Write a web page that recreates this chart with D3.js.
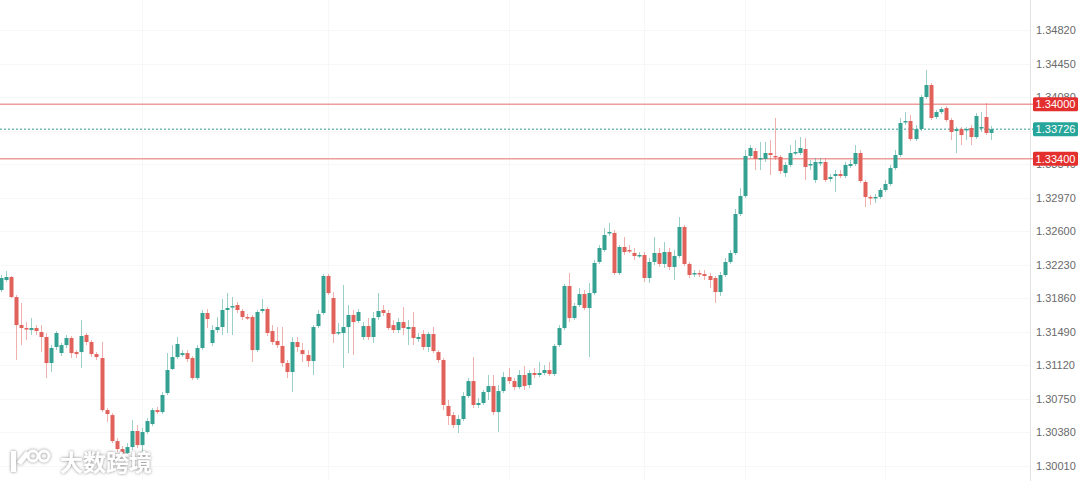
<!DOCTYPE html>
<html><head><meta charset="utf-8">
<script src="https://cdn.jsdelivr.net/npm/d3@7/dist/d3.min.js"></script>
<style>html,body{margin:0;padding:0;background:#fff;overflow:hidden}</style>
</head><body>
<svg id="c" width="1080" height="481"></svg>
<script>
const open=[1.31951,1.32062,1.32095,1.31874,1.31565,1.31532,1.31510,1.31532,1.31488,1.31433,
1.31146,1.31323,1.31256,1.31344,1.31422,1.31267,1.31267,1.31455,1.31378,1.31245,
1.31201,1.30627,1.30572,1.30285,1.30197,1.30153,1.30219,1.30396,1.30241,1.30385,
1.30473,1.30627,1.30605,1.30815,1.31080,1.31212,1.31234,1.31256,1.31201,1.30980,
1.31312,1.31698,1.31367,1.31510,1.31543,1.31731,1.31764,1.31786,1.31720,1.31654,
1.31654,1.31289,1.31720,1.31742,1.31499,1.31389,1.31334,1.31146,1.31047,1.31378,
1.31289,1.31234,1.31168,1.31554,1.31698,1.32106,1.31863,1.31477,1.31477,1.31543,
1.31676,1.31609,1.31433,1.31554,1.31433,1.31653,1.31731,1.31698,1.31565,1.31510,
1.31598,1.31521,1.31543,1.31411,1.31466,1.31323,1.31466,1.31267,1.31179,1.30672,
1.30572,1.30462,1.30528,1.30782,1.30947,1.30683,1.30705,1.30826,1.30892,1.30605,
1.30837,1.30991,1.30947,1.30881,1.31014,1.30903,1.31036,1.31014,1.31036,1.31069,
1.31025,1.31344,1.31532,1.31996,1.31642,1.31786,1.31907,1.31753,1.31918,1.32261,
1.32393,1.32581,1.32581,1.32139,1.32426,1.32393,1.32360,1.32327,1.32338,1.32084,
1.32261,1.32360,1.32239,1.32371,1.32206,1.32327,1.32647,1.32239,1.32128,1.32139,
1.32128,1.32106,1.32084,1.31929,1.32117,1.32261,1.32360,1.32790,1.32989,1.33430,
1.33485,1.33397,1.33397,1.33463,1.33430,1.33419,1.33242,1.33331,1.33463,1.33463,
1.33507,1.33331,1.33165,1.33353,1.33364,1.33176,1.33209,1.33231,1.33209,1.33320,
1.33342,1.33463,1.33143,1.32978,1.32967,1.32978,1.33055,1.33121,1.33297,1.33441,
1.33805,1.33816,1.33617,1.33728,1.34081,1.34213,1.33860,1.33915,1.33959,1.33827,
1.33706,1.33728,1.33717,1.33739,1.33639,1.33739,1.33860,1.33684];
const high=[1.32117,1.32161,1.32106,1.31896,1.31808,1.31598,1.31642,1.31565,1.31565,1.31477,
1.31344,1.31499,1.31367,1.31455,1.31444,1.31289,1.31620,1.31477,1.31400,1.31267,
1.31378,1.30650,1.30594,1.30318,1.30230,1.30263,1.30517,1.30462,1.30429,1.30539,
1.30650,1.30661,1.30826,1.31256,1.31344,1.31433,1.31289,1.31289,1.31223,1.31344,
1.31731,1.31742,1.31565,1.31653,1.31852,1.31918,1.31874,1.31819,1.31742,1.31687,
1.31676,1.31731,1.31852,1.31764,1.31565,1.31543,1.31543,1.31179,1.31433,1.31433,
1.31367,1.31289,1.31565,1.31731,1.32128,1.32128,1.31929,1.31587,1.32007,1.31786,
1.31731,1.31742,1.31598,1.31642,1.31709,1.31918,1.31786,1.31731,1.31620,1.31642,
1.31764,1.31620,1.31709,1.31477,1.31510,1.31488,1.31543,1.31289,1.31201,1.30738,
1.30605,1.30572,1.30826,1.30980,1.31212,1.30760,1.30848,1.31014,1.31014,1.30903,
1.31047,1.31091,1.30980,1.31069,1.31113,1.31069,1.31091,1.31157,1.31124,1.31157,
1.31356,1.31565,1.32018,1.32139,1.31808,1.31973,1.31951,1.32029,1.32283,1.32448,
1.32636,1.32691,1.32614,1.32448,1.32536,1.32448,1.32415,1.32371,1.32371,1.32305,
1.32536,1.32415,1.32481,1.32415,1.32393,1.32757,1.32669,1.32261,1.32172,1.32172,
1.32172,1.32139,1.32106,1.32150,1.32305,1.32393,1.32845,1.33077,1.33496,1.33551,
1.33518,1.33584,1.33584,1.33606,1.33849,1.33441,1.33364,1.33551,1.33606,1.33639,
1.33628,1.33386,1.33408,1.33408,1.33408,1.33231,1.33275,1.33275,1.33364,1.33386,
1.33551,1.33496,1.33165,1.33000,1.33011,1.33077,1.33165,1.33331,1.33496,1.33849,
1.33915,1.33882,1.33772,1.34103,1.34379,1.34235,1.33937,1.33970,1.33981,1.33849,
1.33750,1.33750,1.33750,1.33772,1.33904,1.33915,1.34015,1.33761];
const low=[1.31929,1.32040,1.31863,1.31179,1.31344,1.31400,1.31455,1.31455,1.31267,1.30980,
1.31047,1.31289,1.31223,1.31312,1.31201,1.31201,1.31091,1.31344,1.31212,1.31179,
1.30605,1.30495,1.30263,1.30164,1.30131,1.30120,1.30186,1.30208,1.30131,1.30363,
1.30451,1.30583,1.30583,1.30793,1.31069,1.31190,1.31212,1.31157,1.30958,1.30958,
1.31289,1.31532,1.31334,1.31477,1.31455,1.31477,1.31455,1.31698,1.31620,1.31620,
1.31157,1.31267,1.31698,1.31444,1.31344,1.31312,1.31102,1.30980,1.30826,1.31267,
1.31157,1.31102,1.31014,1.31532,1.31676,1.31896,1.31367,1.31455,1.31091,1.31256,
1.31234,1.31587,1.31400,1.31400,1.31367,1.31620,1.31664,1.31510,1.31477,1.31477,
1.31455,1.31344,1.31344,1.31378,1.31289,1.31267,1.31256,1.31146,1.30627,1.30462,
1.30429,1.30374,1.30506,1.30760,1.30650,1.30650,1.30683,1.30738,1.30572,1.30385,
1.30815,1.30914,1.30848,1.30859,1.30848,1.30870,1.30980,1.30991,1.31014,1.31003,
1.31003,1.31323,1.31510,1.31598,1.31620,1.31764,1.31731,1.31212,1.31896,1.32239,
1.32371,1.32548,1.32117,1.32117,1.32338,1.32360,1.32283,1.32305,1.32040,1.32029,
1.32227,1.32206,1.32195,1.32172,1.32062,1.32305,1.32217,1.32084,1.32095,1.32095,
1.32062,1.31973,1.31808,1.31885,1.32095,1.32239,1.32338,1.32768,1.32967,1.33408,
1.33275,1.33275,1.33364,1.33220,1.33386,1.33231,1.33198,1.33309,1.33441,1.33441,
1.33165,1.33275,1.33132,1.33320,1.33143,1.33143,1.33033,1.33187,1.33187,1.33297,
1.33320,1.33132,1.32867,1.32890,1.32912,1.32956,1.33033,1.33099,1.33275,1.33419,
1.33772,1.33595,1.33595,1.33706,1.34059,1.33827,1.33838,1.33893,1.33805,1.33606,
1.33463,1.33551,1.33606,1.33551,1.33617,1.33695,1.33661,1.33606];
const close=[1.32084,1.32095,1.31874,1.31565,1.31532,1.31521,1.31532,1.31499,1.31433,1.31146,
1.31312,1.31477,1.31344,1.31422,1.31256,1.31245,1.31444,1.31378,1.31245,1.31212,
1.30627,1.30583,1.30285,1.30197,1.30153,1.30219,1.30396,1.30241,1.30385,1.30506,
1.30627,1.30605,1.30793,1.31069,1.31212,1.31356,1.31256,1.31190,1.30980,1.31312,
1.31698,1.31631,1.31510,1.31543,1.31731,1.31753,1.31775,1.31731,1.31654,1.31643,
1.31289,1.31709,1.31742,1.31477,1.31378,1.31344,1.31146,1.31047,1.31378,1.31323,
1.31245,1.31168,1.31543,1.31687,1.32106,1.31918,1.31466,1.31488,1.31543,1.31676,
1.31598,1.31709,1.31554,1.31433,1.31642,1.31720,1.31698,1.31532,1.31510,1.31598,
1.31532,1.31543,1.31422,1.31433,1.31323,1.31466,1.31278,1.31179,1.30683,1.30561,
1.30462,1.30528,1.30782,1.30947,1.30683,1.30705,1.30826,1.30892,1.30605,1.30837,
1.30991,1.30947,1.30881,1.31014,1.30892,1.31036,1.31014,1.31036,1.31069,1.31025,
1.31334,1.31532,1.31996,1.31642,1.31775,1.31907,1.31753,1.31918,1.32250,1.32415,
1.32558,1.32592,1.32139,1.32426,1.32371,1.32382,1.32327,1.32338,1.32084,1.32261,
1.32360,1.32239,1.32371,1.32206,1.32327,1.32647,1.32239,1.32117,1.32139,1.32128,
1.32106,1.32062,1.31929,1.32117,1.32261,1.32360,1.32790,1.32989,1.33430,1.33518,
1.33397,1.33408,1.33463,1.33441,1.33419,1.33264,1.33331,1.33463,1.33474,1.33518,
1.33309,1.33342,1.33364,1.33364,1.33165,1.33198,1.33231,1.33209,1.33331,1.33342,
1.33463,1.33154,1.32978,1.32967,1.32978,1.33055,1.33121,1.33297,1.33441,1.33794,
1.33816,1.33617,1.33728,1.34081,1.34213,1.33849,1.33915,1.33948,1.33827,1.33695,
1.33728,1.33661,1.33728,1.33639,1.33871,1.33750,1.33684,1.33726];

const tickValues=[1.30010,1.30380,1.30750,1.31120,1.31490,1.31860,1.32230,1.32600,1.32970,1.33340,1.33710,1.34080,1.34450,1.34820,1.35190];
const levelLines=[1.34000,1.33400];
const lastPrice=1.33726;
const watermarkText="大数跨境";

const W=1080,H=481,axisX=1030;
const svg=d3.select("#c");
const idx=d3.range(open.length);
const y=d3.scaleLinear().domain([1.30010,1.34820]).range([466,30]);
const x=d3.scaleBand().domain(idx).range([-1.5,993.4]).paddingInner(0.3).paddingOuter(0.15);

// grid (very faint)
const grid=svg.append("g");
grid.selectAll("line.h").data(tickValues).join("line")
  .attr("x1",0).attr("x2",axisX).attr("y1",d=>Math.round(y(d))+0.5).attr("y2",d=>Math.round(y(d))+0.5)
  .attr("stroke","#f7f7f7").attr("stroke-width",1);
const vGrid=[28,65,101,128,148,176];
grid.selectAll("line.v").data(vGrid).join("line")
  .attr("x1",d=>Math.round(x(d)+x.bandwidth()/2)+0.5).attr("x2",d=>Math.round(x(d)+x.bandwidth()/2)+0.5)
  .attr("y1",0).attr("y2",H).attr("stroke","#f7f7f7").attr("stroke-width",1);

// axis
svg.append("line").attr("x1",axisX+0.5).attr("x2",axisX+0.5).attr("y1",0).attr("y2",H)
  .attr("stroke","#e3e3e3").attr("stroke-width",1);
const yAxis=d3.axisRight(y).tickValues(tickValues).tickFormat(d3.format(".5f")).tickSize(0).tickPadding(6);
const ag=svg.append("g").attr("transform",`translate(${axisX},0)`).call(yAxis);
ag.select(".domain").remove();
ag.selectAll("text").attr("fill","#6a6a6a").attr("font-size",11).attr("font-family","Liberation Sans, Arial, sans-serif");

// level lines
svg.selectAll("line.lvl").data(levelLines).join("line")
  .attr("x1",0).attr("x2",axisX+4).attr("y1",d=>y(d)).attr("y2",d=>y(d))
  .attr("stroke","#ee9e9a").attr("stroke-width",1.5);
svg.append("line").attr("x1",0).attr("x2",axisX+4).attr("y1",y(lastPrice)).attr("y2",y(lastPrice))
  .attr("stroke","#2f9c90").attr("stroke-width",1).attr("stroke-dasharray","2,2");

// candles
const up="#35a192",dn="#e1615b";
const cg=svg.append("g");
const col=i=>close[i]>=open[i]?up:dn;
cg.selectAll("line.w").data(idx).join("line")
  .attr("x1",i=>Math.round(x(i)+x.bandwidth()/2)+0.5).attr("x2",i=>Math.round(x(i)+x.bandwidth()/2)+0.5)
  .attr("y1",i=>y(high[i])).attr("y2",i=>y(low[i]))
  .attr("stroke",i=>col(i)).attr("stroke-opacity",0.5).attr("stroke-width",1);
cg.selectAll("rect").data(idx).join("rect")
  .attr("x",i=>Math.round(x(i)+x.bandwidth()/2)-1.5).attr("width",4)
  .attr("y",i=>Math.min(y(open[i]),y(close[i])))
  .attr("height",i=>Math.max(1.5,Math.abs(y(open[i])-y(close[i]))))
  .attr("fill",i=>col(i));

// price labels
const labels=[{v:levelLines[0],c:"#e3302e"},{v:lastPrice,c:"#26a69a"},{v:levelLines[1],c:"#e3302e"}];
const lg=svg.selectAll("g.pl").data(labels).join("g").attr("transform",d=>`translate(${axisX+3},${y(d.v)})`);
lg.append("rect").attr("x",0).attr("y",-7).attr("width",45).attr("height",14).attr("rx",1.5).attr("fill",d=>d.c);
lg.append("text").attr("x",22.5).attr("y",4).attr("text-anchor","middle").attr("fill","#fff")
  .attr("font-size",11).attr("font-family","Liberation Sans, Arial, sans-serif").text(d=>d3.format(".5f")(d.v));

// watermark
const defs=svg.append("defs");
const f=defs.append("filter").attr("id","sh").attr("x","-20%").attr("y","-30%").attr("width","140%").attr("height","160%");
f.append("feDropShadow").attr("dx",0).attr("dy",0).attr("stdDeviation",1.4).attr("flood-color","#777").attr("flood-opacity",0.9);
const lw=svg.append("g").attr("filter","url(#sh)");
lw.append("path").attr("d","M11 451 L16 451 L16 472 L11 472 Z M17 462 L26 451 L30 454 L21 465 Z")
  .attr("fill","#fff");
lw.append("circle").attr("cx",33).attr("cy",456).attr("r",5).attr("fill","none").attr("stroke","#fff").attr("stroke-width",2.8);
lw.append("circle").attr("cx",44).attr("cy",456).attr("r",5).attr("fill","none").attr("stroke","#fff").attr("stroke-width",2.8);
lw.append("text").attr("x",60).attr("y",471).attr("font-size",23).attr("font-weight","bold")
  .attr("font-family","Noto Sans CJK SC, sans-serif").attr("fill","#fff").text(watermarkText);
</script>
</body></html>
